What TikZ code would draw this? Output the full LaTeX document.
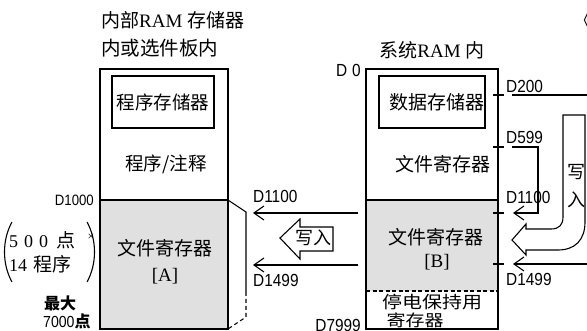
\documentclass[tikz,border=0pt]{standalone}
\usepackage{fontspec}
\setmainfont{Liberation Serif}
\newfontfamily\cjk{Noto Sans CJK SC}
\newfontfamily\dfont{Liberation Sans}[FakeStretch=0.88]
\usetikzlibrary{arrows.meta}
\begin{document}
\begin{tikzpicture}[x=1pt,y=-1pt,
  zh/.style={font=\cjk\fontsize{18.5}{20}\selectfont, inner sep=0pt},
  ttl/.style={font=\fontsize{19}{20}\selectfont, inner sep=0pt},
  lab/.style={font=\dfont\fontsize{17.5}{18}\selectfont, inner sep=0pt},
  box/.style={draw, line width=1.2pt},
  shadefill/.style={fill=black!12},
  arr/.style={line width=1.1pt, -{Straight Barb[length=10pt,width=14pt,line width=1.1pt]}},
  ln/.style={line width=1.1pt},
  hollow/.style={draw, fill=white, line width=1.1pt, line join=miter}]
\useasboundingbox (0,0) rectangle (587,331);
\clip (0,0) rectangle (587,331);

% ---------- left box ----------
\coordinate (LTL) at (100,69);
\coordinate (LBR) at (228,329);
\fill[shadefill] (100,200) rectangle (228,329);
\draw[box] (LTL) rectangle (LBR);
\draw[line width=1.5pt] (100,200) -- (228,200);
\draw[box] (112,76) rectangle (214,128);
\node[zh] (pm) at (163,102) {程序存储器};
\node[zh] (pc) at (166,164) {程序/注释};
\node[zh, font=\cjk\fontsize{19}{20}\selectfont] (fa) at (165,248) {文件寄存器};
\node[ttl] (fal) at (165,276) {[A]};
\node[ttl, anchor=west] (t1) at (101,20) {{\cjk 内部}RAM {\cjk 存储器}};
\node[zh, font=\cjk\fontsize{19.5}{20}\selectfont, anchor=west] (t2) at (101,48) {内或选件板内};
\node[lab, font=\dfont\fontsize{15}{16}\selectfont, anchor=east] (d1000) at (94,200) {D1000};

% dashed side outline
\coordinate (s1) at (228,200);
\coordinate (s2) at (246,212);
\coordinate (s3) at (246,292);
\coordinate (s4) at (246,317);
\coordinate (s5) at (228,329);
\draw[ln] (s1) -- (s2) -- (s3);
\draw[ln, dashed, dash pattern=on 4pt off 3pt] (s3) -- (s4) -- (s5);

% bracket text
\draw[ln] (12,222) .. controls (2,240) and (2,264) .. (12,282);
\draw[ln] (87,222) .. controls (97,240) and (97,264) .. (87,282);
\node[font=\fontsize{18}{18}\selectfont, inner sep=0pt, anchor=west] (n500) at (9,240) {5\hspace{6pt}0\hspace{6pt}0\hspace{8pt}{\cjk\fontsize{19}{20}\selectfont 点}};
\node[font=\fontsize{12}{12}\selectfont, inner sep=0pt] (x) at (91,237) {×};
\node[font=\fontsize{18}{18}\selectfont, inner sep=0pt, anchor=west] (n14) at (9,264) {14\hspace{6pt}{\cjk\fontsize{19}{20}\selectfont 程序}};
\node[font=\cjk\bfseries\fontsize{16}{16}\selectfont, inner sep=0pt] (max) at (60,303) {最大};
\node[inner sep=0pt, anchor=west] (n7000) at (43,321) {{\dfont\fontsize{16}{16}\selectfont 7000}{\cjk\bfseries\fontsize{16}{16}\selectfont 点}};

% ---------- middle arrows ----------
\coordinate (m1a) at (358,213);
\coordinate (m1b) at (253,213);
\coordinate (m2a) at (358,265);
\coordinate (m2b) at (253,265);
\draw[arr] (m1a) -- (m1b);
\draw[arr] (m2a) -- (m2b);
\node[lab, anchor=west] (md1100) at (253,196) {D1100};
\node[lab, anchor=west] (md1499) at (253,280) {D1499};
\draw[hollow] (280,238) -- (300,219) -- (300,227) -- (333,227) -- (333,251) -- (300,251) -- (300,259) -- cycle;
\node[zh, font=\cjk\fontsize{18}{18}\selectfont] (wl) at (313,238) {写入};

% ---------- right box ----------
\coordinate (RTL) at (366,69);
\coordinate (RBR) at (498,329);
\fill[shadefill] (366,200) rectangle (498,291);
\draw[box] (RTL) rectangle (RBR);
\draw[line width=1.5pt] (366,200) -- (498,200);
\draw[ln, dashed, dash pattern=on 4pt off 2.5pt] (366,291) -- (498,291);
\draw[box] (379,76) rectangle (485,128);
\node[zh, font=\cjk\fontsize{19}{20}\selectfont] (dm) at (437,102) {数据存储器};
\node[zh, font=\cjk\fontsize{19}{20}\selectfont] (fr1) at (443,164) {文件寄存器};
\node[zh, font=\cjk\fontsize{19}{20}\selectfont] (fr2) at (436,237) {文件寄存器};
\node[ttl] (frb) at (437,262) {[B]};
\node[inner sep=0pt] (bk1) at (432,302) {\scalebox{1}[0.85]{\cjk\fontsize{20}{20}\selectfont 停电保持用}};
\node[inner sep=0pt] (bk2) at (415,320) {\scalebox{1}[0.85]{\cjk\fontsize{19}{20}\selectfont 寄存器}};
\node[ttl] (t3) at (432,50) {{\cjk 系统}RAM {\cjk 内}};
\node[lab, anchor=east] (d0) at (361,70) {D\hspace{5pt}0};
\node[lab, anchor=east] (d7999) at (361,325) {D7999};

% right-side ticks and labels
\foreach \yy in {95,147,213,264}{
  \draw[ln] (493,\yy) -- (504,\yy);
}
\coordinate (r200a) at (512,95);
\coordinate (r200b) at (587,95);
\draw[ln] (r200a) -- (r200b);
\node[lab, anchor=west] (rd200) at (506,86) {D200};
\node[lab, anchor=west] (rd599) at (506,137) {D599};
\node[lab, anchor=west] (rd1100) at (506,197) {D1100};
\node[lab, anchor=west] (rd1499) at (506,279) {D1499};
\coordinate (c1) at (512,147);
\coordinate (c2) at (538,147);
\coordinate (c3) at (538,213);
\coordinate (c4) at (513,213);
\draw[arr] (c1) -- (c2) -- (c3) -- (c4);
\coordinate (e1) at (587,264);
\coordinate (e2) at (513,264);
\draw[arr] (e1) -- (e2);

% curved hollow arrow
\draw[hollow] (512,240) -- (526,224) -- (526,229) -- (551,229)
  .. controls (559,229) and (563,225) .. (563,217) -- (563,115) -- (585,115) -- (585,222)
  .. controls (585,240) and (575,250) .. (558,250) -- (526,250) -- (526,255) -- cycle;
\node[zh, font=\cjk\fontsize{18}{18}\selectfont] (w1) at (576,172) {写};
\node[zh, font=\cjk\fontsize{18}{18}\selectfont] (w2) at (576,200) {入};

% top-right cut text
\node[zh, anchor=west] (tr) at (574,20) {《工};
\end{tikzpicture}
\end{document}
